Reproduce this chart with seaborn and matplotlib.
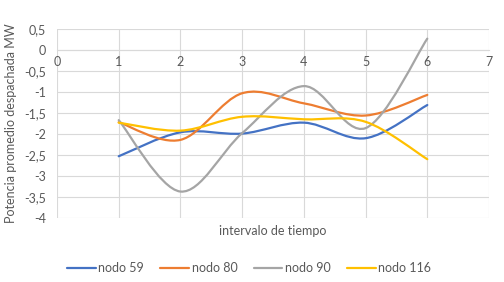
import numpy as np
import pandas as pd
import matplotlib
matplotlib.use('Agg')
import matplotlib.pyplot as plt
from matplotlib.path import Path
from matplotlib.patches import PathPatch
import seaborn as sns

# ============================================
# DATOS
# ============================================
intervalos = [1, 2, 3, 4, 5, 6]
nodo_59 = [-2.53, -1.96, -1.99, -1.73, -2.10, -1.31]
nodo_80 = [-1.72, -2.14, -1.03, -1.27, -1.56, -1.07]
nodo_90 = [-1.67, -3.37, -1.98, -0.86, -1.86, 0.27]
nodo_116 = [-1.73, -1.92, -1.59, -1.65, -1.71, -2.60]

nombres = ['nodo 59', 'nodo 80', 'nodo 90', 'nodo 116']
colores = ['#4472C4', '#ED7D31', '#A5A5A5', '#FFC000']

y_ticks = [0.5, 0, -0.5, -1, -1.5, -2, -2.5, -3, -3.5, -4]
x_ticks = [0, 1, 2, 3, 4, 5, 6, 7]

df = pd.DataFrame({
    'intervalo': intervalos * 4,
    'potencia': nodo_59 + nodo_80 + nodo_90 + nodo_116,
    'nodo': [n for n in nombres for _ in intervalos],
})

TEXTO = '#595959'
GRID = '#D9D9D9'

sns.set_style('white')
plt.rcParams['font.family'] = ['Lato', 'DejaVu Sans']


def curva_suave(xs, ys):
    """Trayectoria Bezier tipo Excel (linea suavizada) por los puntos"""
    pts = np.column_stack([xs, ys]).astype(float)
    ext = np.vstack([pts[0], pts, pts[-1]])
    verts = [pts[0]]
    codes = [Path.MOVETO]
    for i in range(1, len(ext) - 2):
        p0, p1, p2, p3 = ext[i - 1], ext[i], ext[i + 1], ext[i + 2]
        verts += [p1 + (p2 - p0) / 6, p2 - (p3 - p1) / 6, p2]
        codes += [Path.CURVE4] * 3
    return Path(verts, codes)


fig = plt.figure(figsize=(5.04, 2.82), dpi=100)
ax = fig.add_axes([57 / 504, 1 - 218 / 282, 432 / 504, 189 / 282])

sns.lineplot(data=df, x='intervalo', y='potencia', hue='nodo',
             hue_order=nombres, palette=colores, linewidth=1.6, ax=ax)

# Reemplazar segmentos rectos por curvas suavizadas
for linea, color in zip(ax.lines, colores):
    xs, ys = linea.get_data()
    linea.set_visible(False)
    ax.add_patch(PathPatch(curva_suave(xs, ys), facecolor='none',
                           edgecolor=color, linewidth=1.6, zorder=3,
                           capstyle='round', joinstyle='round'))

ax.set_xlim(0, 7)
ax.set_ylim(-4, 0.5)
ax.set_xticks(x_ticks)
ax.set_yticks(y_ticks)
ax.set_yticklabels([f'{v:g}'.replace('.', ',') for v in y_ticks])
ax.grid(True, color=GRID, linewidth=0.8)
ax.set_axisbelow(True)

for lado in ['top', 'right', 'left']:
    ax.spines[lado].set_visible(False)
ax.spines['bottom'].set_position(('data', 0))
ax.spines['bottom'].set_color(GRID)
ax.spines['bottom'].set_linewidth(0.8)

ax.tick_params(axis='both', length=0, labelsize=9, labelcolor=TEXTO)
ax.tick_params(axis='y', pad=8)
ax.tick_params(axis='x', pad=4)

ax.set_xlabel('')
ax.set_ylabel('Potencia promedio despachada MW', fontsize=9, color=TEXTO, labelpad=5)
fig.text(273 / 504, 1 - 231 / 282, 'intervalo de tiempo', ha='center', va='center',
         fontsize=9, color=TEXTO)

sns.move_legend(ax, 'center', bbox_to_anchor=(249 / 504, 1 - 268 / 282),
                bbox_transform=fig.transFigure, ncol=4, frameon=False,
                title=None, fontsize=9, handlelength=2.3, columnspacing=1.3,
                handletextpad=0.2, labelcolor=TEXTO)

plt.savefig('out.png', dpi=100)
plt.close()
